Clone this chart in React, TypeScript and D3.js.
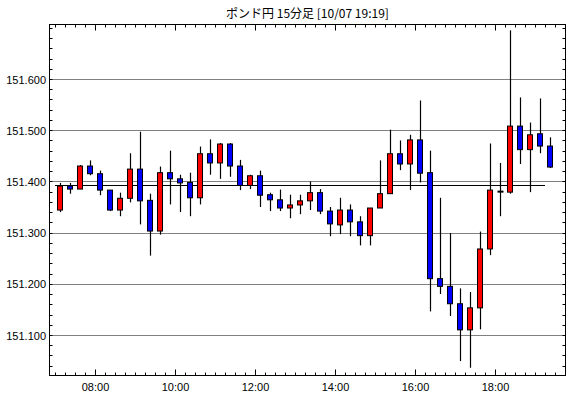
import React from 'react';
import * as d3 from 'd3';

const WIDTH = 570;
const HEIGHT = 398;

const title = 'ポンド円 15分足 [10/07 19:19]';

// 15分足 07:00 - 19:15
const opens = [
  151.345, 151.392, 151.386, 151.431, 151.416, 151.384, 151.345, 151.368, 151.425, 151.364,
  151.304, 151.418, 151.406, 151.399, 151.369, 151.455, 151.437, 151.474, 151.431, 151.393,
  151.412, 151.375, 151.365, 151.349, 151.355, 151.363, 151.379, 151.343, 151.316, 151.345,
  151.322, 151.295, 151.349, 151.377, 151.455, 151.435, 151.482, 151.418, 151.211, 151.196,
  151.162, 151.111, 151.154, 151.269, 151.381, 151.380, 151.509, 151.463, 151.494, 151.470,
];
const highs = [
  151.398, 151.398, 151.433, 151.442, 151.422, 151.384, 151.379, 151.456, 151.498, 151.377,
  151.430, 151.461, 151.414, 151.418, 151.469, 151.483, 151.476, 151.476, 151.443, 151.414,
  151.422, 151.379, 151.385, 151.375, 151.375, 151.401, 151.386, 151.351, 151.369, 151.356,
  151.333, 151.349, 151.442, 151.502, 151.481, 151.492, 151.559, 151.461, 151.369, 151.300,
  151.192, 151.185, 151.303, 151.475, 151.437, 151.696, 151.565, 151.516, 151.563, 151.487,
];
const lows = [
  151.341, 151.377, 151.386, 151.413, 151.374, 151.343, 151.333, 151.360, 151.317, 151.256,
  151.297, 151.356, 151.341, 151.333, 151.356, 151.414, 151.406, 151.410, 151.384, 151.386,
  151.351, 151.343, 151.343, 151.329, 151.337, 151.345, 151.337, 151.294, 151.298, 151.294,
  151.276, 151.276, 151.349, 151.377, 151.423, 151.384, 151.399, 151.147, 151.181, 151.138,
  151.050, 151.037, 151.112, 151.257, 151.333, 151.377, 151.435, 151.380, 151.456, 151.427,
];
const closes = [
  151.392, 151.386, 151.431, 151.416, 151.384, 151.345, 151.368, 151.425, 151.363, 151.304,
  151.418, 151.406, 151.398, 151.369, 151.455, 151.437, 151.474, 151.431, 151.393, 151.412,
  151.374, 151.365, 151.349, 151.355, 151.363, 151.379, 151.343, 151.318, 151.345, 151.322,
  151.295, 151.349, 151.377, 151.455, 151.435, 151.482, 151.417, 151.211, 151.196, 151.162,
  151.111, 151.154, 151.269, 151.384, 151.381, 151.509, 151.463, 151.492, 151.470, 151.429,
];

const refPrice = 151.393;
const yTicks = [151.1, 151.2, 151.3, 151.4, 151.5, 151.6];
const xTickLabels = ['08:00', '10:00', '12:00', '14:00', '16:00', '18:00'];

const START = new Date(2024, 9, 7, 7, 0);
const STEP = 15 * 60 * 1000;

const LEFT = 49.5;
const RIGHT = 565.5;
const TOP = 24.5;
const BOTTOM = 375.5;

function App() {
  const candles = opens.map((o, i) => ({
    t: new Date(START.getTime() + i * STEP),
    o,
    h: highs[i],
    l: lows[i],
    c: closes[i],
  }));

  // 07:00 at x=55.5, 10px per 15 minutes
  const xScale = d3
    .scaleTime()
    .domain([START, new Date(START.getTime() + 50 * STEP)])
    .range([55.5, 555.5]);
  const domainStart = xScale.invert(LEFT);
  const domainEnd = xScale.invert(RIGHT);

  const yScale = d3.scaleLinear().domain([151.1, 151.6]).range([335.5, 79.5]);
  const vMin = yScale.invert(BOTTOM);
  const vMax = yScale.invert(TOP);

  const snap = (v: number) => Math.round(v - 0.5) + 0.5;

  const minorY = d3.range(Math.ceil(vMin / 0.02), Math.floor(vMax / 0.02) + 1).map(k => k * 0.02);
  const minorX = d3.timeMinute.every(15)!.range(domainStart, domainEnd);
  const majorX = xTickLabels.map(s => {
    const [hh, mm] = s.split(':').map(Number);
    return new Date(2024, 9, 7, hh, mm);
  });

  const half = STEP / 2;

  return (
    <svg width={WIDTH} height={HEIGHT} style={{ position: 'absolute', left: 0, top: 0, background: '#fff' }}>
      <text
        x={(LEFT + RIGHT) / 2}
        y={18}
        textAnchor="middle"
        fontFamily="'Noto Sans CJK JP', sans-serif"
        fontSize={12}
        fill="#000"
      >
        {title}
      </text>

      {/* grid */}
      {yTicks.map(v => (
        <line
          key={'g' + v}
          x1={LEFT}
          x2={RIGHT}
          y1={snap(yScale(v))}
          y2={snap(yScale(v))}
          stroke="#000"
          strokeWidth={1}
          strokeDasharray="1,1"
        />
      ))}

      {/* y ticks */}
      {minorY.map(v => (
        <g key={'yt' + v.toFixed(2)}>
          <line x1={LEFT} x2={LEFT + 3} y1={snap(yScale(v))} y2={snap(yScale(v))} stroke="#000" />
          <line x1={RIGHT - 3} x2={RIGHT} y1={snap(yScale(v))} y2={snap(yScale(v))} stroke="#000" />
        </g>
      ))}

      {/* x ticks */}
      {minorX.map(t => (
        <g key={'xt' + t.getTime()}>
          <line x1={snap(xScale(t))} x2={snap(xScale(t))} y1={BOTTOM} y2={BOTTOM - 3} stroke="#000" />
          <line x1={snap(xScale(t))} x2={snap(xScale(t))} y1={TOP} y2={TOP + 3} stroke="#000" />
        </g>
      ))}
      {majorX.map(t => (
        <g key={'xm' + t.getTime()}>
          <line x1={snap(xScale(t))} x2={snap(xScale(t))} y1={BOTTOM} y2={BOTTOM - 6} stroke="#000" />
          <line x1={snap(xScale(t))} x2={snap(xScale(t))} y1={TOP} y2={TOP + 6} stroke="#000" />
        </g>
      ))}

      {/* reference line */}
      <line
        x1={xScale(START) - 0.5}
        x2={xScale(candles[candles.length - 1].t) - 0.5}
        y1={snap(yScale(refPrice))}
        y2={snap(yScale(refPrice))}
        stroke="#000"
        strokeWidth={1.2}
      />

      {/* candles */}
      {candles.map((d, i) => {
        const cx = xScale(new Date(d.t.getTime() + half));
        const up = d.c >= d.o;
        const top = yScale(Math.max(d.o, d.c));
        const bot = yScale(Math.min(d.o, d.c));
        const doji = Math.abs(d.c - d.o) < 0.002;
        return (
          <g key={i}>
            <line x1={cx} x2={cx} y1={yScale(d.h)} y2={yScale(d.l)} stroke="#000" strokeWidth={1.2} />
            {doji ? (
              <rect x={cx - 3} y={top - 1} width={6} height={2} fill="#000" />
            ) : (
              <rect
                x={cx - 3}
                y={top}
                width={5}
                height={Math.max(1, bot - top)}
                fill={up ? '#ff0000' : '#0000ff'}
                stroke="#000"
                strokeWidth={1}
              />
            )}
          </g>
        );
      })}

      {/* frame */}
      <rect x={LEFT} y={TOP} width={RIGHT - LEFT} height={BOTTOM - TOP} fill="none" stroke="#000" />

      {/* y labels */}
      {yTicks.map(v => (
        <text
          key={'yl' + v}
          x={46}
          y={yScale(v) + 4}
          textAnchor="end"
          fontFamily="'Liberation Sans', Arial, sans-serif"
          fontSize={11}
          fill="#000"
        >
          {v.toFixed(3)}
        </text>
      ))}

      {/* x labels */}
      {majorX.map((t, i) => (
        <text
          key={'xl' + i}
          x={xScale(t)}
          y={391}
          textAnchor="middle"
          fontFamily="'Liberation Sans', Arial, sans-serif"
          fontSize={11}
          fill="#000"
        >
          {xTickLabels[i]}
        </text>
      ))}
    </svg>
  );
}

export default App;
